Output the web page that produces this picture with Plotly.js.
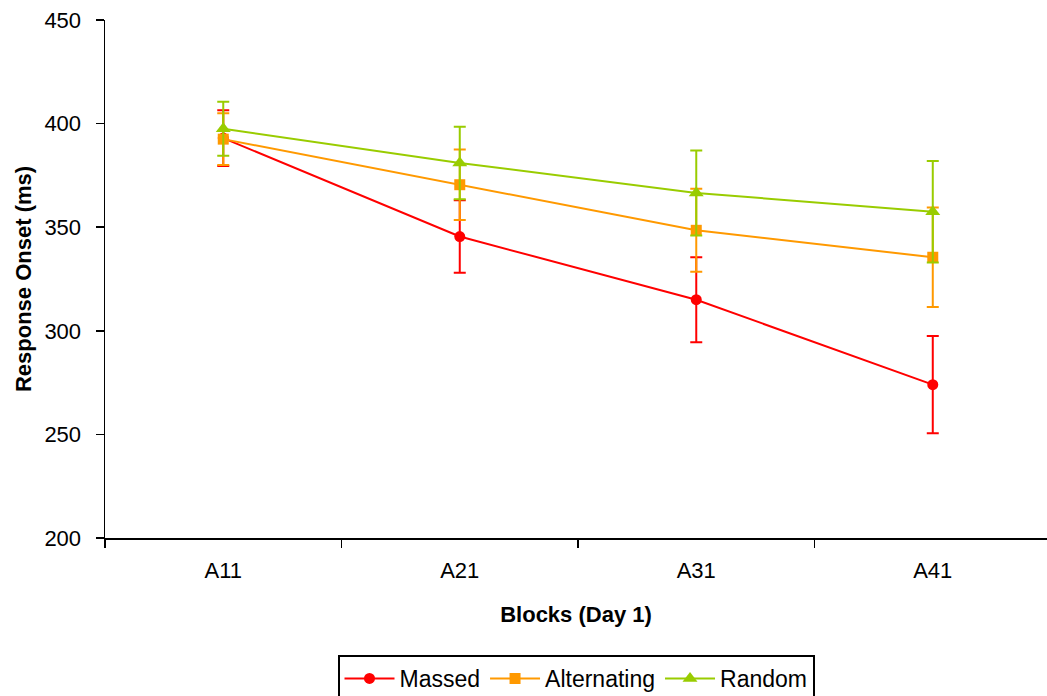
<!DOCTYPE html>
<html>
<head>
<meta charset="utf-8">
<script src="https://cdn.plot.ly/plotly-3.0.1.min.js"></script>
<style>html,body{margin:0;padding:0;background:#fff}#chart{width:1047px;height:696px}</style>
</head>
<body>
<div id="chart"></div>
<script>
// Response onset per block, day 1, with error bars
const blocks = ['A11', 'A21', 'A31', 'A41'];

const massed = [393, 345.5, 315, 274];
const massedErr = [13.5, 17.5, 20.5, 23.5];

const alternating = [392.5, 370.5, 348.5, 335.5];
const alternatingErr = [12.5, 17, 20, 24];

const random = [397.5, 381, 366.5, 357.5];
const randomErr = [13, 17.5, 20.5, 24.5];

const seriesNames = ['Massed', 'Alternating', 'Random'];
const colors = ['#FF0000', '#FF9900', '#99CC00'];
const symbols = ['circle', 'square', 'triangle-up'];
const markerSizes = [11, 11, 13];

function series(i, y, err) {
  return {
    type: 'scatter', mode: 'lines+markers', name: seriesNames[i],
    x: blocks, y: y,
    line: {color: colors[i], width: 2},
    marker: {color: colors[i], symbol: symbols[i], size: markerSizes[i]},
    error_y: {type: 'data', array: err, visible: true, color: colors[i], thickness: 2, width: 6}
  };
}

const data = [
  series(0, massed, massedErr),
  series(1, alternating, alternatingErr),
  series(2, random, randomErr)
];

const font = {family: 'Liberation Sans, Arial, sans-serif', color: '#000'};
const withSize = s => Object.assign({size: s}, font);

const layout = {
  width: 1047, height: 696,
  margin: {l: 105, r: 0, t: 20, b: 158},
  paper_bgcolor: '#fff', plot_bgcolor: '#fff',
  showlegend: true,
  font: withSize(22),
  xaxis: {
    type: 'category', range: [-0.5, 3.483],
    showgrid: false, zeroline: false,
    showline: true, linecolor: '#000', linewidth: 1.5,
    ticks: 'outside', tickson: 'boundaries', ticklen: 8, tickcolor: '#000', tickwidth: 1.5,
    ticklabelstandoff: 12,
    tickfont: withSize(22),
    title: {text: '<b>Blocks (Day 1)</b>', font: withSize(22), standoff: 24}
  },
  yaxis: {
    range: [200, 450], dtick: 50,
    showgrid: false, zeroline: false,
    showline: true, linecolor: '#000', linewidth: 1.5,
    ticks: 'outside', ticklen: 8, tickcolor: '#000', tickwidth: 1.5,
    ticklabelstandoff: 10,
    tickfont: withSize(22),
    title: {text: '<b>Response Onset (ms)</b>', font: withSize(22), standoff: 6}
  },
  legend: {
    orientation: 'h', x: 0.5, xanchor: 'center',
    yref: 'container', y: 0.059, yanchor: 'top',
    bordercolor: '#000', borderwidth: 2, bgcolor: '#fff',
    font: withSize(23),
    itemwidth: 50, tracegroupgap: 0
  }
};

Plotly.newPlot('chart', data, layout, {displayModeBar: false, staticPlot: true});
</script>
</body>
</html>
